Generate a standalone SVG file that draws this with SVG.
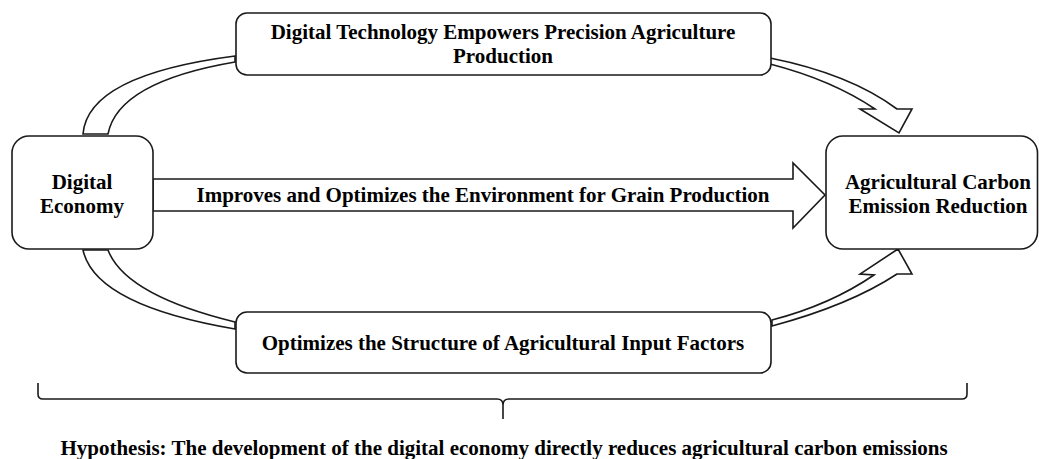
<svg xmlns="http://www.w3.org/2000/svg" width="1039" height="459" viewBox="0 0 1039 459">
  <style>
    .box { fill: #ffffff; stroke: #1a1a1a; stroke-width: 1.6; }
    .band { fill: #ffffff; stroke: #1a1a1a; stroke-width: 1.6; stroke-linejoin: miter; }
    .brace { fill: none; stroke: #1a1a1a; stroke-width: 1.6; }
    .lbl { font-family: "Liberation Serif", "Times New Roman", serif; font-weight: bold; font-size: 21px; fill: #000000; text-anchor: middle; }
  </style>
  <rect width="1039" height="459" fill="#ffffff"/>

  <!-- connectors -->
  <g id="connectors">
    <!-- Digital Economy -> upper mechanism (tapered band) -->
    <path class="band" d="M83,134 Q88,75 235,56 L235,62 Q118,82 108,134 Z"/>
    <!-- upper mechanism -> Agricultural Carbon Emission Reduction -->
    <path class="band" d="M770,58 Q850,74 897,109 L912,109 L899,133 L860,109 L875,109 Q832,80 770,64 Z"/>
    <!-- Digital Economy -> lower mechanism (tapered band) -->
    <path class="band" d="M83,250 Q95,305 235,329 L235,322 Q125,295 108,250 Z"/>
    <!-- lower mechanism -> Agricultural Carbon Emission Reduction -->
    <path class="band" d="M772,326 Q850,305 897,274 L912,274 L898,249 L860,274 L874,275 Q830,305 772,320 Z"/>
    <!-- direct block arrow -->
    <g id="direct-arrow">
      <path class="band" d="M153,179 L793,179 L793,163 L825,195 L793,228 L793,211 L153,211 Z"/>
      <text class="lbl" x="483" y="202">Improves and Optimizes the Environment for Grain Production</text>
    </g>
  </g>

  <!-- nodes -->
  <g id="digital-economy">
    <rect class="box" x="12" y="136" width="141" height="113" rx="17" ry="17"/>
    <text class="lbl" x="82" y="189">Digital</text>
    <text class="lbl" x="82" y="213">Economy</text>
  </g>

  <g id="carbon-reduction">
    <rect class="box" x="826" y="136" width="211.5" height="113" rx="17" ry="17"/>
    <text class="lbl" x="938" y="189">Agricultural Carbon</text>
    <text class="lbl" x="938" y="213">Emission Reduction</text>
  </g>

  <g id="precision-production">
    <rect class="box" x="236" y="13" width="535" height="62" rx="11" ry="11"/>
    <text class="lbl" x="503" y="39">Digital Technology Empowers Precision Agriculture</text>
    <text class="lbl" x="503" y="63">Production</text>
  </g>

  <g id="input-structure">
    <rect class="box" x="236" y="312" width="535" height="61" rx="11" ry="11"/>
    <text class="lbl" x="503" y="350">Optimizes the Structure of Agricultural Input Factors</text>
  </g>

  <!-- hypothesis brace -->
  <g id="hypothesis">
    <path class="brace" d="M38,383 L38,394 Q38,399 43,399 L497,399 Q503,399 503,405 L503,419 M503,405 Q503,399 509,399 L962,399 Q967,399 967,394 L967,383"/>
    <text class="lbl" x="504" y="455">Hypothesis: The development of the digital economy directly reduces agricultural carbon emissions</text>
  </g>
</svg>
